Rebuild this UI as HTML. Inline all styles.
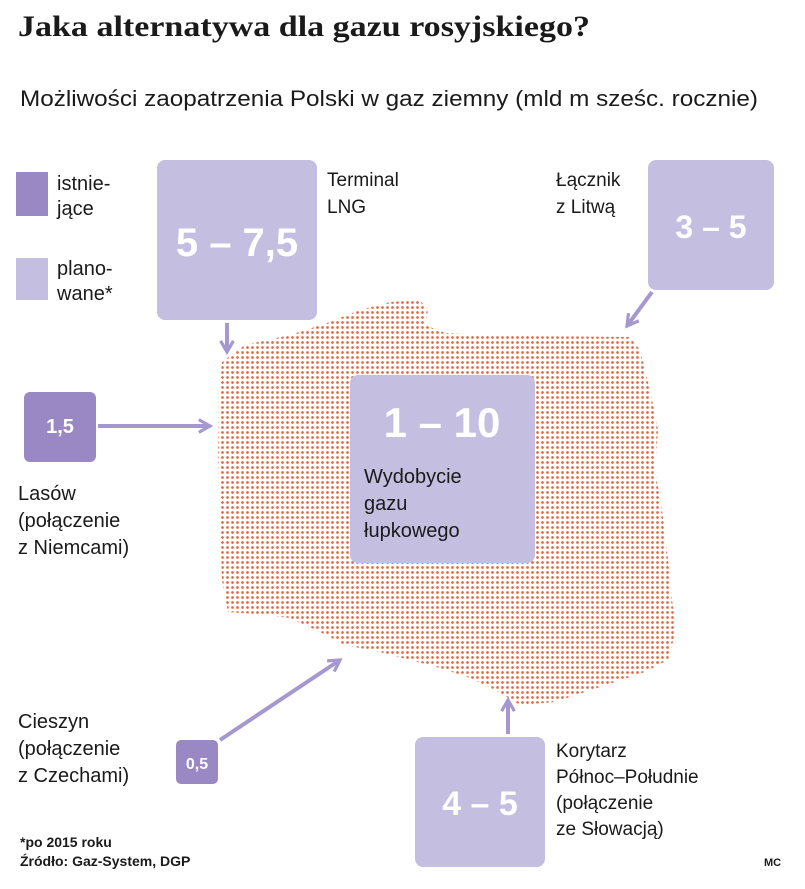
<!DOCTYPE html>
<html><head><meta charset="utf-8"><style>
html,body{margin:0;padding:0;background:#fff;}
svg{display:block;}
text{font-family:"Liberation Sans",sans-serif;fill:#1a1a1a;}
.w{fill:#fff;font-weight:bold;}
</style></head><body>
<svg width="805" height="889" viewBox="0 0 805 889" xmlns="http://www.w3.org/2000/svg">
<defs>
<pattern id="dots" width="5" height="5" patternUnits="userSpaceOnUse">
<circle cx="2.5" cy="2.5" r="1.35" fill="#e0673f"/>
</pattern>
<marker id="ah" viewBox="0 0 10 10" refX="8" refY="5" markerWidth="4" markerHeight="4" orient="auto">
<path d="M1,1 L8,5 L1,9" fill="none" stroke="#a598cf" stroke-width="2"/>
</marker>
</defs>
<text x="18" y="36" font-weight="bold" font-size="30" textLength="572" lengthAdjust="spacingAndGlyphs" style="font-family:'Liberation Serif',serif">Jaka alternatywa dla gazu rosyjskiego?</text>
<text x="20" y="106" font-size="22" textLength="738" lengthAdjust="spacingAndGlyphs">Możliwości zaopatrzenia Polski w gaz ziemny (mld m sześc. rocznie)</text>

<!-- map -->
<path fill="url(#dots)" d="M222,362 L245,345 L290,335 L330,322 L360,310 L390,302 L420,300 L428,310 L425,325 L445,333 L520,336 L630,337 L640,350 L650,390 L658,430 L655,470 L662,510 L668,560 L672,600 L676,630 L668,660 L645,672 L615,682 L585,692 L555,702 L520,705 L495,690 L470,678 L440,668 L410,660 L380,652 L345,645 L320,632 L290,618 L255,614 L228,612 L222,580 L220,520 L218,450 L219,390 Z"/>

<!-- legend -->
<rect x="16" y="172" width="32" height="44" fill="#9a88c4"/>
<text x="57" y="190" font-size="20">istnie-</text>
<text x="57" y="215" font-size="20">jące</text>
<rect x="16" y="258" width="32" height="42" fill="#c4bfe1"/>
<text x="57" y="275" font-size="20">plano-</text>
<text x="57" y="300" font-size="20">wane*</text>

<!-- LNG -->
<rect x="157" y="160" width="160" height="160" rx="8" fill="#c4bfe1"/>
<text class="w" x="237" y="256" font-size="40" text-anchor="middle">5 – 7,5</text>
<text x="327" y="186" font-size="19">Terminal</text>
<text x="327" y="213" font-size="19">LNG</text>
<line x1="227" y1="323" x2="227" y2="352" stroke="#a598cf" stroke-width="4" marker-end="url(#ah)"/>

<!-- Litwa -->
<rect x="648" y="160" width="126" height="130" rx="8" fill="#c4bfe1"/>
<text class="w" x="711" y="238" font-size="32" text-anchor="middle">3 – 5</text>
<text x="556" y="186" font-size="19">Łącznik</text>
<text x="556" y="213" font-size="19">z Litwą</text>
<line x1="652" y1="292" x2="627" y2="326" stroke="#a598cf" stroke-width="4" marker-end="url(#ah)"/>

<!-- Lasow -->
<rect x="24" y="392" width="72" height="70" rx="6" fill="#9a88c4"/>
<text class="w" x="60" y="433" font-size="20" text-anchor="middle">1,5</text>
<line x1="98" y1="426" x2="210" y2="426" stroke="#a598cf" stroke-width="4" marker-end="url(#ah)"/>
<text x="18" y="500" font-size="20">Lasów</text>
<text x="18" y="527" font-size="20">(połączenie</text>
<text x="18" y="554" font-size="20">z Niemcami)</text>

<!-- center -->
<rect x="350" y="375" width="185" height="188" rx="8" fill="#c4bfe1"/>
<text class="w" x="442" y="437" font-size="42" text-anchor="middle">1 – 10</text>
<text x="364" y="483" font-size="20">Wydobycie</text>
<text x="364" y="510" font-size="20">gazu</text>
<text x="364" y="537" font-size="20">łupkowego</text>

<!-- Cieszyn -->
<text x="18" y="728" font-size="20">Cieszyn</text>
<text x="18" y="755" font-size="20">(połączenie</text>
<text x="18" y="782" font-size="20">z Czechami)</text>
<rect x="176" y="740" width="42" height="44" rx="5" fill="#9a88c4"/>
<text class="w" x="197" y="769" font-size="16" text-anchor="middle">0,5</text>
<line x1="220" y1="740" x2="340" y2="660" stroke="#a598cf" stroke-width="4" marker-end="url(#ah)"/>

<!-- Slowacja -->
<rect x="415" y="737" width="130" height="130" rx="8" fill="#c4bfe1"/>
<text class="w" x="480" y="815" font-size="34" text-anchor="middle">4 – 5</text>
<line x1="508" y1="734" x2="508" y2="700" stroke="#a598cf" stroke-width="4" marker-end="url(#ah)"/>
<text x="556" y="757" font-size="19">Korytarz</text>
<text x="556" y="783" font-size="19">Północ–Południe</text>
<text x="556" y="809" font-size="19">(połączenie</text>
<text x="556" y="835" font-size="19">ze Słowacją)</text>

<text x="20" y="847" font-size="14" font-weight="bold">*po 2015 roku</text>
<text x="20" y="866" font-size="14" font-weight="bold">Źródło: Gaz-System, DGP</text>
<text x="764" y="866" font-size="11" font-weight="bold">MC</text>
</svg>
</body></html>
